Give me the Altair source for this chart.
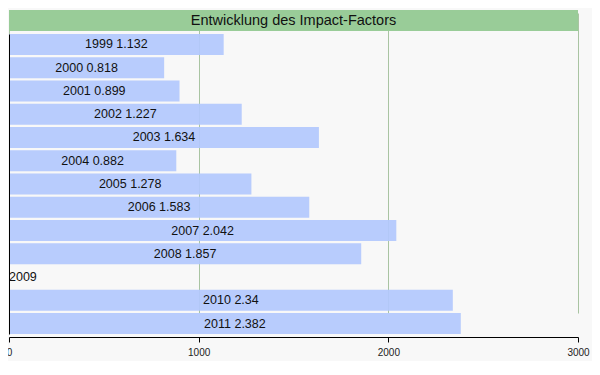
import altair as alt
import pandas as pd

years = ["1999", "2000", "2001", "2002", "2003", "2004", "2005", "2006",
         "2007", "2008", "2009", "2010", "2011"]
impact = [1.132, 0.818, 0.899, 1.227, 1.634, 0.882, 1.278, 1.583,
          2.042, 1.857, None, 2.34, 2.382]
title_text = "Entwicklung des Impact-Factors"
x_ticks = [0, 1000, 2000, 3000]

rows = []
for y, v in zip(years, impact):
    val = 0 if v is None else v * 1000
    label = y if v is None else f"{y} {v:g}"
    rows.append({"year": y, "value": val, "mid": val / 2, "label": label,
                 "empty": v is None})
df = pd.DataFrame(rows)

W, H = 569, 327
yscale = alt.Scale(domain=years, range=[24, 324], paddingInner=0.1, paddingOuter=0)
xscale = alt.Scale(domain=[0, 3000], nice=False)

base = alt.Chart(df)

bars = base.mark_bar(color="#b3c8fd", opacity=0.93).encode(
    x=alt.X("value:Q", scale=xscale,
            axis=alt.Axis(values=x_ticks, title=None, grid=True, gridColor="#a9c4a2",
                          format="d", labelFlush=False,
                          domainColor="black", tickColor="black", tickSize=5,
                          labelColor="#222", labelFont="Liberation Sans", labelFontSize=10,
                          labelPadding=5)),
    y=alt.Y("year:N", scale=yscale,
            axis=alt.Axis(labels=False, ticks=False, title=None, domainColor="black",
                          grid=False, zindex=1)),
)

labels_c = base.transform_filter("!datum.empty").mark_text(
    align="center", baseline="middle", font="Liberation Sans", fontSize=12.5, color="#111"
).encode(
    x=alt.X("mid:Q", scale=xscale),
    y=alt.Y("year:N", scale=yscale),
    text="label:N",
)

labels_l = base.transform_filter("datum.empty").mark_text(
    align="left", baseline="middle", font="Liberation Sans", fontSize=12.5, color="#111"
).encode(
    x=alt.X("value:Q", scale=xscale),
    y=alt.Y("year:N", scale=yscale),
    text="label:N",
)

title_df = pd.DataFrame({"t": [title_text]})
title_bar = alt.Chart(title_df).mark_rect(color="#99cc98").encode(
    x=alt.value(0), x2=alt.value(W), y=alt.value(0), y2=alt.value(21)
)
title_txt = alt.Chart(title_df).mark_text(
    align="center", baseline="middle", font="Liberation Sans", fontSize=14.5,
    color="#111"
).encode(x=alt.value(W / 2), y=alt.value(11), text="t:N")

chart = alt.layer(bars, labels_c, labels_l, title_bar, title_txt).properties(
    width=W, height=H, background="#f8f8f8",
    padding={"left": 1, "top": 2, "right": 14, "bottom": 24},
    autosize=alt.AutoSizeParams(type="none"),
).configure_view(stroke=None)

chart.save("out.html", embed_options={"renderer": "svg", "actions": False})
